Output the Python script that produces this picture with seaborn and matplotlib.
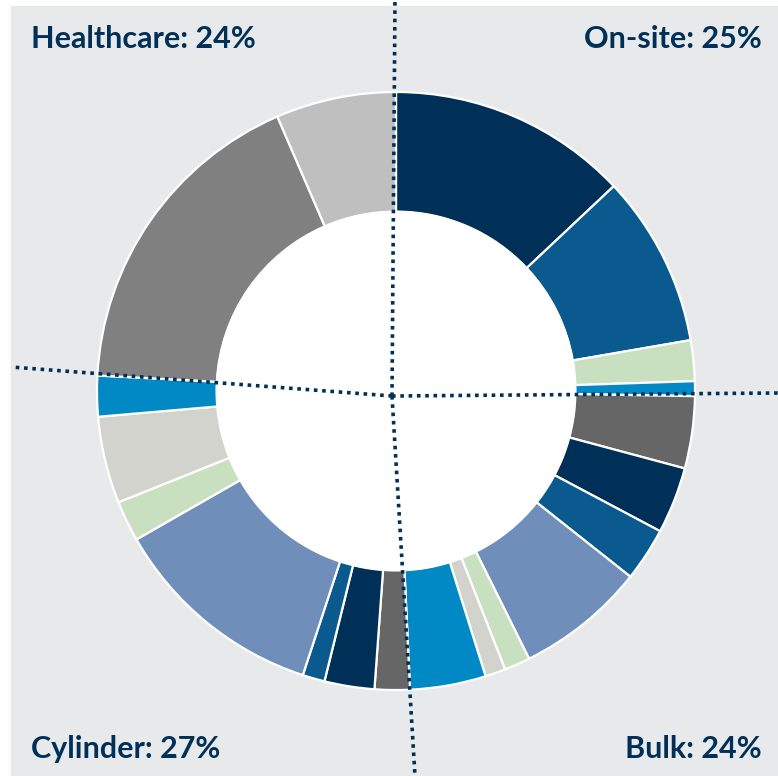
import numpy as np
import matplotlib.pyplot as plt
import seaborn as sns
from matplotlib.patches import Rectangle, Circle

# segment shares (%) clockwise from 12 o'clock, grouped by business
onsite = [13.0, 9.3, 2.2, 0.8]
bulk = [3.9, 3.6, 2.9, 7.0, 1.4, 1.1, 4.1]
cylinder = [1.9, 2.7, 1.2, 11.7, 2.2, 4.7, 2.2]
healthcare = [17.7, 6.5]

group_names = ['On-site', 'Bulk', 'Cylinder', 'Healthcare']
group_pct = [25, 24, 27, 24]

navy = '#003057'
mid = '#0b5a8f'
green = '#c8e0c0'
cyan = '#0089c4'
dgray = '#666666'
steel = '#6f8fba'
lgray = '#d1d3cc'

onsite_cols = [navy, mid, green, cyan]
bulk_cols = [dgray, navy, mid, steel, green, lgray, cyan]
cyl_cols = [dgray, navy, mid, steel, green, lgray, cyan]
health_cols = ['#808080', '#bfbfbf']

sns.set_style('white')
plt.rcParams['font.family'] = ['Lato', 'DejaVu Sans']

values = onsite + bulk + cylinder + healthcare
colors = sns.color_palette(onsite_cols + bulk_cols + cyl_cols + health_cols)

fig = plt.figure(figsize=(7.78, 7.76), dpi=100)
ax = fig.add_axes([0, 0, 1, 1])
ax.set_xlim(0, 778)
ax.set_ylim(0, 776)
ax.axis('off')

# grey panel
ax.add_patch(Rectangle((11, 0), 767, 770, color='#e8e9eb', zorder=0))

R = 299
ax.pie(values, colors=colors, startangle=90, counterclock=False,
       center=(396, 385), radius=R,
       wedgeprops=dict(width=0.4 * R, edgecolor='white', linewidth=1.6))
# white hole
ax.add_patch(Circle((396, 385), 0.6 * R, color='white', zorder=3))
ax.set_aspect('equal')
ax.set_xlim(0, 778)
ax.set_ylim(0, 776)

# dotted quadrant dividers
cx, cy = 392, 380
ends = [(395, 776), (778, 383), (415, 0), (11, 409)]
for ex, ey in ends:
    ax.plot([cx, ex], [cy, ey], color=navy, linestyle=(0, (1, 1.3)),
            linewidth=2.6, zorder=5)

# corner labels
labels = [f'{n}: {p}%' for n, p in zip(group_names, group_pct)]
kw = dict(color=navy, fontsize=22, fontweight='bold', zorder=6)
ax.text(762, 728, labels[0], ha='right', va='baseline', **kw)
ax.text(762, 18, labels[1], ha='right', va='baseline', **kw)
ax.text(31, 18, labels[2], ha='left', va='baseline', **kw)
ax.text(31, 728, labels[3], ha='left', va='baseline', **kw)

fig.savefig('out.png', dpi=100)
